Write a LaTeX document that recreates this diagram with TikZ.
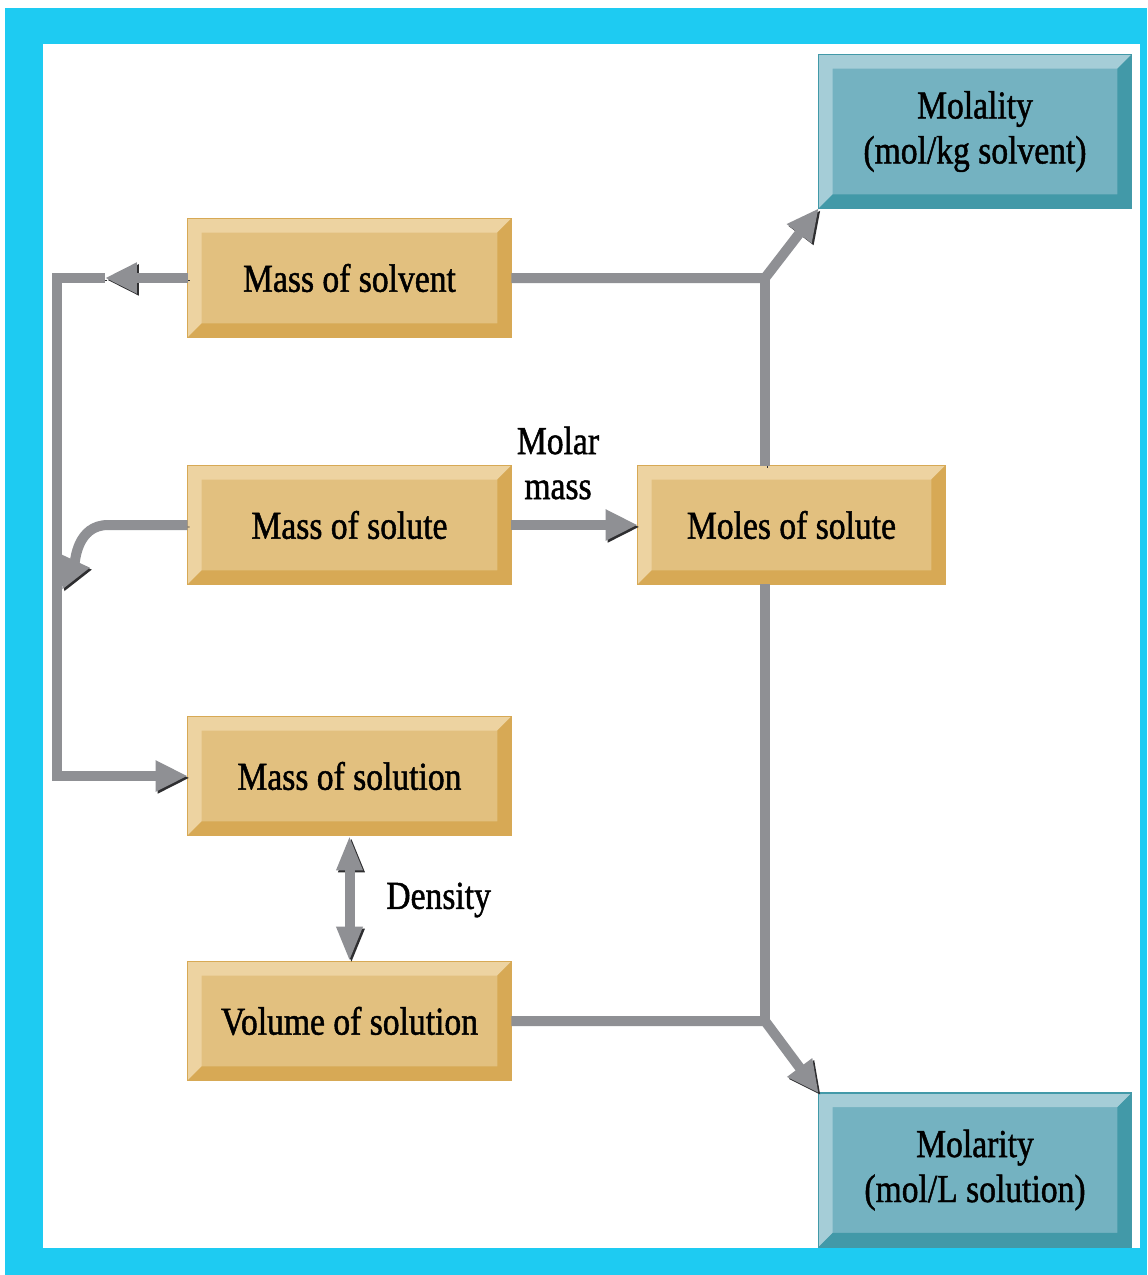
\documentclass[tikz,border=0pt]{standalone}
\usepackage{fontspec}
\setmainfont{Liberation Serif}[FakeStretch=0.85,FakeBold=1.2]
\usetikzlibrary{arrows.meta}
\definecolor{tanface}{HTML}{E2C07F}
\definecolor{tanlight}{HTML}{EDD3A1}
\definecolor{tandark}{HTML}{D7A955}
\definecolor{tealface}{HTML}{74B2C1}
\definecolor{teallight}{HTML}{A5CDD7}
\definecolor{tealdark}{HTML}{4299A8}
\definecolor{framecyan}{HTML}{1ECBF2}
\definecolor{pipegray}{HTML}{8F9094}
\definecolor{pipeedge}{HTML}{2E2E30}
% bevelled frame round a named node: #1 node, #2 light, #3 dark
\newcommand{\bevel}[3]{%
 \fill[#2] (#1.south west) -- (#1.north west) -- (#1.north east) -- ([shift={(-14,14)}]#1.north east) -- ([shift={(14,14)}]#1.north west) -- ([shift={(14,-14)}]#1.south west) -- cycle;%
 \fill[#3] (#1.south west) -- (#1.south east) -- (#1.north east) -- ([shift={(-14,14)}]#1.north east) -- ([shift={(-14,-14)}]#1.south east) -- ([shift={(14,-14)}]#1.south west) -- cycle;%
 \draw[#3,line width=0.8pt] (#1.south west) rectangle (#1.north east);%
}
\newcommand{\tanbox}[4]{%
 \node[tanbox,minimum width=#3] (#1) at (#2) {#4};%
 \bevel{#1}{tanlight}{tandark}%
}
\newcommand{\tealbox}[3]{%
 \node[tealbox] (#1) at (#2) {#3};%
 \bevel{#1}{teallight}{tealdark}%
}

\begin{document}
\begin{tikzpicture}[x=0.02cm,y=-0.02cm,
  boxfont/.style={font=\fontsize{22.5}{25.6}\selectfont},
  tanbox/.style={boxfont,fill=tanface,minimum height=2.36cm,inner sep=0pt,align=center},
  tealbox/.style={boxfont,fill=tealface,minimum width=6.24cm,minimum height=3.06cm,inner sep=0pt,align=center},
  note/.style={boxfont,align=center,inner sep=0pt},
  pipe/.style={draw=pipegray,line width=0.2cm,
    preaction={draw=pipeedge,transform canvas={shift={(1.1pt,-1.1pt)}}}},
  tip/.style={-{Triangle[length=0.64cm,width=0.58cm]}},
  bothtips/.style={{Triangle[length=0.7cm,width=0.48cm]}-{Triangle[length=0.7cm,width=0.48cm]}}]
  % frame
  \fill[white] (0,0) rectangle (1147,1275);
  \fill[framecyan] (5,8) rectangle (1147,1275);
  \fill[white] (43,44) rectangle (1140,1248);
  % boxes
  \tanbox{msv}{349.5,278}{6.46cm}{Mass of solvent};
  \tanbox{msl}{349.5,525}{6.46cm}{Mass of solute};
  \tanbox{msn}{349.5,776}{6.46cm}{Mass of solution};
  \tanbox{vsn}{349.5,1021}{6.46cm}{Volume of solution};
  \tanbox{mol}{791.5,525}{6.14cm}{Moles of solute};
  \tealbox{mty}{975,131.5}{Molality\\(mol/kg solvent)};
  \tealbox{mrt}{975,1170}{Molarity\\(mol/L solution)};
  \node[note] (molar) at (558,463) {Molar\\mass};
  \node[note,anchor=west] (dens) at (386,900) {Density};
  \coordinate (lefttip) at (105,278);
  \coordinate (leftcorner) at (57,278);
  \coordinate (curvebend) at (108,525);
  \coordinate (curvetip) at (62,590);
  \coordinate (topjoin) at (765,278);
  \coordinate (topend) at (765,273);
  \coordinate (lowjoin) at (765,1021);
  \coordinate (lowend) at (765,1026);
  % connectors
  \draw[pipe,tip] (msv) -- (lefttip);
  \draw[pipe,tip] (lefttip) -- (leftcorner) |- (msn);
  \draw[pipe,tip] (msl) -- (curvebend) to[out=180,in=65] (curvetip);
  \draw[pipe,tip] (msl) -- (mol);
  \draw[pipe,bothtips] (msn) -- (vsn);
  \draw[pipe] (mol.north -| topjoin) -- (topend);
  \draw[pipe] (mol.south -| lowjoin) -- (lowend);
  \draw[pipe,tip] (msv) -- (topjoin) -- (mty.south west);
  \draw[pipe,tip] (vsn) -- (lowjoin) -- (mrt.north west);
\end{tikzpicture}
\end{document}
